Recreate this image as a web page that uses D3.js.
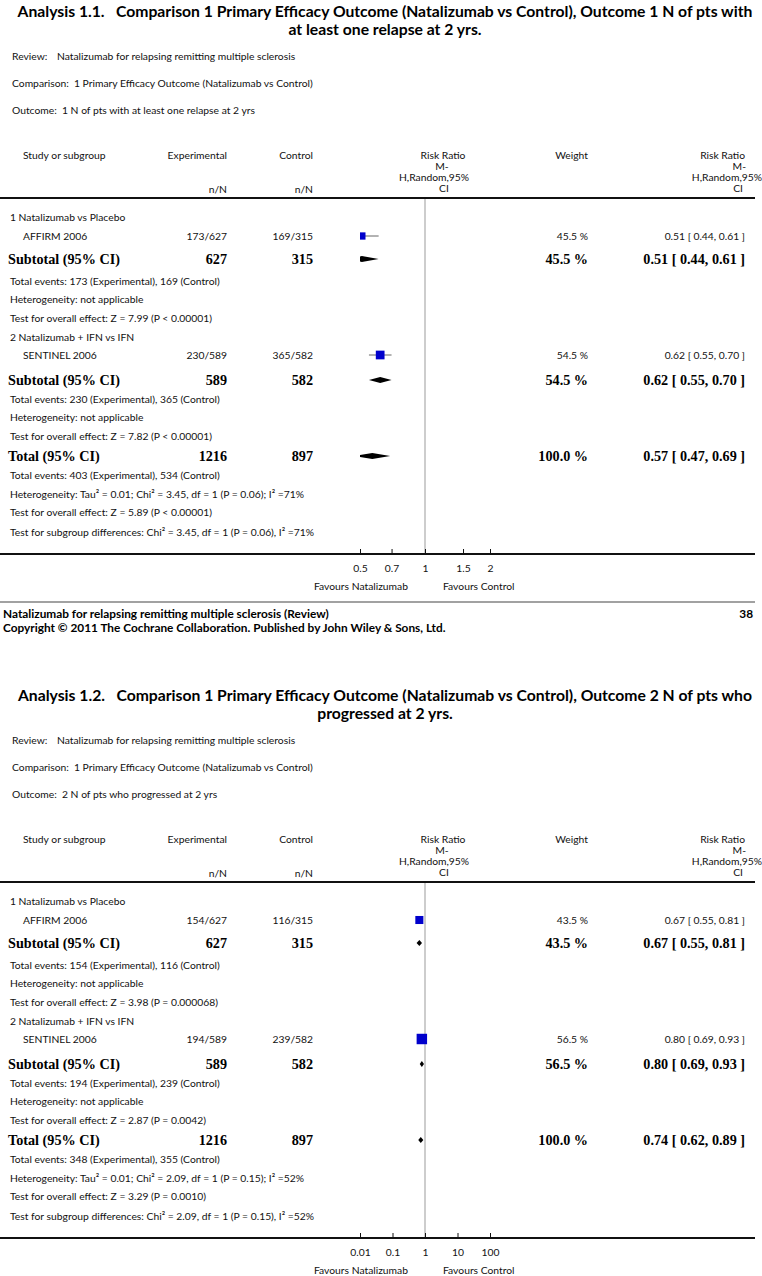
<!DOCTYPE html>
<html><head><meta charset="utf-8">
<script src="https://cdn.jsdelivr.net/npm/d3@7"></script>
<style>
html,body{margin:0;padding:0;background:#fff;}
svg{display:block;}
</style></head>
<body>
<svg id="chart" width="762" height="1276"></svg>
<script>
// ---------------- DATA ----------------
const titleLines = [
  ["Analysis 1.1.   Comparison 1 Primary Efficacy Outcome (Natalizumab vs Control), Outcome 1 N of pts with", "at least one relapse at 2 yrs."],
  ["Analysis 1.2.   Comparison 1 Primary Efficacy Outcome (Natalizumab vs Control), Outcome 2 N of pts who", "progressed at 2 yrs."]
];
const reviewText = "Natalizumab for relapsing remitting multiple sclerosis";
const comparisonText = "1 Primary Efficacy Outcome (Natalizumab vs Control)";
const outcomeTexts = ["1 N of pts with at least one relapse at 2 yrs", "2 N of pts who progressed at 2 yrs"];
const subgroupNames = ["1 Natalizumab vs Placebo", "2 Natalizumab + IFN vs IFN"];
const studyNames = ["AFFIRM 2006", "SENTINEL 2006"];
const expTotal = [627, 589];
const ctrlTotal = [315, 582];
const expEvents = [[173, 230], [154, 194]];
const ctrlEvents = [[169, 365], [116, 239]];
const studyRR = [[0.51, 0.62], [0.67, 0.80]];
const studyLo = [[0.44, 0.55], [0.55, 0.69]];
const studyHi = [[0.61, 0.70], [0.81, 0.93]];
const studyWeight = [[45.5, 54.5], [43.5, 56.5]];
const subgroupEffect = [["Z = 7.99 (P < 0.00001)", "Z = 7.82 (P < 0.00001)"], ["Z = 3.98 (P = 0.000068)", "Z = 2.87 (P = 0.0042)"]];
const totalRR = [0.57, 0.74];
const totalLo = [0.47, 0.62];
const totalHi = [0.69, 0.89];
const totalHeterogeneity = ["Tau\u00B2 = 0.01; Chi\u00B2 = 3.45, df = 1 (P = 0.06); I\u00B2 =71%", "Tau\u00B2 = 0.01; Chi\u00B2 = 2.09, df = 1 (P = 0.15); I\u00B2 =52%"];
const totalEffect = ["Z = 5.89 (P < 0.00001)", "Z = 3.29 (P = 0.0010)"];
const subgroupDiff = ["Chi\u00B2 = 3.45, df = 1 (P = 0.06), I\u00B2 =71%", "Chi\u00B2 = 2.09, df = 1 (P = 0.15), I\u00B2 =52%"];
const axisDomains = [[0.5, 2], [0.01, 100]];
const axisTicks = [[0.5, 0.7, 1, 1.5, 2], [0.01, 0.1, 1, 10, 100]];
const axisTickLabels = [["0.5", "0.7", "1", "1.5", "2"], ["0.01", "0.1", "1", "10", "100"]];
const favoursLabels = ["Favours Natalizumab", "Favours Control"];
const footerLines = ["Natalizumab for relapsing remitting multiple sclerosis (Review)", "Copyright \u00A9 2011 The Cochrane Collaboration. Published by John Wiley & Sons, Ltd."];
const pageNumber = "38";

// ---------------- LAYOUT ----------------
const panelOffset = 684;
const rowY = { sub1: 217, study1: 236, subt1: 259, ev1: 281, het1: 299, eff1: 318,
  sub2: 337, study2: 355, subt2: 380, ev2: 399, het2: 417, eff2: 436,
  total: 456, evT: 475, hetT: 494, effT: 512, diff: 532 };
const ruleY = 198, axisY = 554, tickLabelY = 569, favY = 586;
const plotRange = [360, 490];
const boxMax = [16, 18.5];
const colExp = 227, colCtrl = 313, colWeight = 588, colRR = 745;

const svg = d3.select("#chart");
const SANS = "Lato, 'Open Sans', sans-serif";
const SERIF = "'Liberation Serif', 'DejaVu Serif', serif";

function measure(str, family, weight, size) {
  const t = svg.append("text").attr("font-family", family).attr("font-weight", weight)
    .attr("font-size", size).text(str);
  const w = t.node().getComputedTextLength(); t.remove(); return w;
}
const sansSize = 10 * 210 / measure("Total events: 173 (Experimental), 169 (Control)", SANS, 400, 10);
const serifSize = 10 * 112 / measure("Subtotal (95% CI)", SERIF, 700, 10);
const titleSize = 10 * 728 / measure(titleLines[0][0], SANS, 700, 10);
const footSize = 10 * 326 / measure(footerLines[0], SANS, 700, 10);

function txt(g, x, y, s, o = {}) {
  return g.append("text").attr("x", x).attr("y", y).attr("dy", "0.35em")
    .attr("text-anchor", o.anchor || "start")
    .attr("font-family", o.family || SANS)
    .attr("font-weight", o.weight || 400)
    .attr("font-size", o.size || sansSize)
    .attr("fill", o.fill || "#111")
    .attr("xml:space", "preserve")
    .style("white-space", "pre")
    .text(s);
}
const bold = { family: SERIF, weight: 700, size: serifSize, fill: "#000" };
const f2 = d3.format(".2f"), f1 = d3.format(".1f");
const rrText = (r, l, h) => `${f2(r)} [ ${f2(l)}, ${f2(h)} ]`;

for (let a = 0; a < 2; a++) {
  const g = svg.append("g").attr("transform", `translate(0,${a * panelOffset})`);
  const x = d3.scaleLog().domain(axisDomains[a]).range(plotRange);
  const box = d3.scaleLinear().domain([0, 100]).range([0, boxMax[a]]);

  // titles
  txt(g, 385, 11, titleLines[a][0], { anchor: "middle", weight: 700, size: titleSize, fill: "#000" });
  txt(g, 385, 29, titleLines[a][1], { anchor: "middle", weight: 700, size: titleSize, fill: "#000" });
  txt(g, 12, 56, "Review:"); txt(g, 57, 56, reviewText);
  txt(g, 12, 83, "Comparison:"); txt(g, 74, 83, comparisonText);
  txt(g, 12, 110, "Outcome:"); txt(g, 62, 110, outcomeTexts[a]);

  // headers
  txt(g, 23, 155, "Study or subgroup");
  txt(g, colExp, 155, "Experimental", { anchor: "end" });
  txt(g, colCtrl, 155, "Control", { anchor: "end" });
  txt(g, colExp, 189, "n/N", { anchor: "end" });
  txt(g, colCtrl, 189, "n/N", { anchor: "end" });
  txt(g, 443, 155, "Risk Ratio", { anchor: "middle" });
  txt(g, 442, 166, "M-", { anchor: "middle" });
  txt(g, 434, 177, "H,Random,95%", { anchor: "middle" });
  txt(g, 444, 188, "CI", { anchor: "middle" });
  txt(g, colWeight, 155, "Weight", { anchor: "end" });
  txt(g, colRR, 155, "Risk Ratio", { anchor: "end" });
  txt(g, 746, 166, "M-", { anchor: "end" });
  txt(g, 762, 177, "H,Random,95%", { anchor: "end" });
  txt(g, 743, 188, "CI", { anchor: "end" });

  g.append("line").attr("x1", 0).attr("x2", 755).attr("y1", ruleY).attr("y2", ruleY)
    .attr("stroke", "#111").attr("stroke-width", 2);

  // null line
  g.append("line").attr("x1", x(1)).attr("x2", x(1)).attr("y1", ruleY + 1).attr("y2", axisY)
    .attr("stroke", "#bdbdbd").attr("stroke-width", 1.5);

  const clipId = "clip" + a;
  g.append("clipPath").attr("id", clipId).append("rect")
    .attr("x", plotRange[0]).attr("y", ruleY).attr("width", plotRange[1] - plotRange[0]).attr("height", axisY - ruleY);
  const marks = g.append("g").attr("clip-path", `url(#${clipId})`);

  function diamond(y, r, l, h) {
    marks.append("polygon")
      .attr("points", [[x(l), y], [x(r), y - 3], [x(h), y], [x(r), y + 3]].map(p => p.join(",")).join(" "))
      .attr("fill", "#000");
  }

  for (let s = 0; s < 2; s++) {
    const k = s + 1;
    const yS = rowY["study" + k];
    txt(g, 10, rowY["sub" + k], subgroupNames[s]);
    txt(g, 23, yS, studyNames[s]);
    txt(g, colExp, yS, `${expEvents[a][s]}/${expTotal[s]}`, { anchor: "end" });
    txt(g, colCtrl, yS, `${ctrlEvents[a][s]}/${ctrlTotal[s]}`, { anchor: "end" });
    txt(g, colWeight, yS, f1(studyWeight[a][s]) + " %", { anchor: "end" });
    txt(g, colRR, yS, rrText(studyRR[a][s], studyLo[a][s], studyHi[a][s]), { anchor: "end" });
    marks.append("line").attr("x1", x(studyLo[a][s])).attr("x2", x(studyHi[a][s]))
      .attr("y1", yS).attr("y2", yS).attr("stroke", "#666").attr("stroke-width", 1);
    const b = box(studyWeight[a][s]);
    marks.append("rect").attr("x", x(studyRR[a][s]) - b / 2).attr("y", yS - b / 2)
      .attr("width", b).attr("height", b).attr("fill", "#0000cc");

    const yT = rowY["subt" + k];
    txt(g, 8, yT, "Subtotal (95% CI)", bold);
    txt(g, colExp, yT, String(expTotal[s]), { ...bold, anchor: "end" });
    txt(g, colCtrl, yT, String(ctrlTotal[s]), { ...bold, anchor: "end" });
    txt(g, colWeight, yT, f1(studyWeight[a][s]) + " %", { ...bold, anchor: "end" });
    txt(g, colRR, yT, rrText(studyRR[a][s], studyLo[a][s], studyHi[a][s]), { ...bold, anchor: "end" });
    diamond(yT, studyRR[a][s], studyLo[a][s], studyHi[a][s]);

    txt(g, 10, rowY["ev" + k], `Total events: ${expEvents[a][s]} (Experimental), ${ctrlEvents[a][s]} (Control)`);
    txt(g, 10, rowY["het" + k], "Heterogeneity: not applicable");
    txt(g, 10, rowY["eff" + k], "Test for overall effect: " + subgroupEffect[a][s]);
  }

  // total
  const yTot = rowY.total;
  txt(g, 8, yTot, "Total (95% CI)", bold);
  txt(g, colExp, yTot, String(d3.sum(expTotal)), { ...bold, anchor: "end" });
  txt(g, colCtrl, yTot, String(d3.sum(ctrlTotal)), { ...bold, anchor: "end" });
  txt(g, colWeight, yTot, f1(d3.sum(studyWeight[a])) + " %", { ...bold, anchor: "end" });
  txt(g, colRR, yTot, rrText(totalRR[a], totalLo[a], totalHi[a]), { ...bold, anchor: "end" });
  diamond(yTot, totalRR[a], totalLo[a], totalHi[a]);
  txt(g, 10, rowY.evT, `Total events: ${d3.sum(expEvents[a])} (Experimental), ${d3.sum(ctrlEvents[a])} (Control)`);
  txt(g, 10, rowY.hetT, "Heterogeneity: " + totalHeterogeneity[a]);
  txt(g, 10, rowY.effT, "Test for overall effect: " + totalEffect[a]);
  txt(g, 10, rowY.diff, "Test for subgroup differences: " + subgroupDiff[a]);

  // axis
  g.append("line").attr("x1", 0).attr("x2", 755).attr("y1", axisY).attr("y2", axisY)
    .attr("stroke", "#111").attr("stroke-width", 2);
  const ax = d3.axisBottom(x).tickValues(axisTicks[a])
    .tickFormat((d, i) => axisTickLabels[a][i]).tickSizeInner(-5).tickSizeOuter(0).tickPadding(11);
  const axG = g.append("g").attr("transform", `translate(0,${axisY})`).call(ax);
  axG.select(".domain").remove();
  axG.selectAll(".tick line").attr("stroke", "#111");
  axG.selectAll(".tick text").attr("font-family", SANS).attr("font-size", sansSize).attr("fill", "#111");

  txt(g, x(1) - 17, favY, favoursLabels[0], { anchor: "end" });
  txt(g, x(1) + 18, favY, favoursLabels[1]);
}

// footer (first page)
svg.append("line").attr("x1", 0).attr("x2", 755).attr("y1", 602).attr("y2", 602)
  .attr("stroke", "#444").attr("stroke-width", 1.2);
txt(svg, 3, 614, footerLines[0], { weight: 700, size: footSize, fill: "#000" });
txt(svg, 3, 628, footerLines[1], { weight: 700, size: footSize, fill: "#000" });
txt(svg, 753, 614, pageNumber, { anchor: "end", weight: 700, size: footSize, fill: "#000" });
</script>
</body></html>
